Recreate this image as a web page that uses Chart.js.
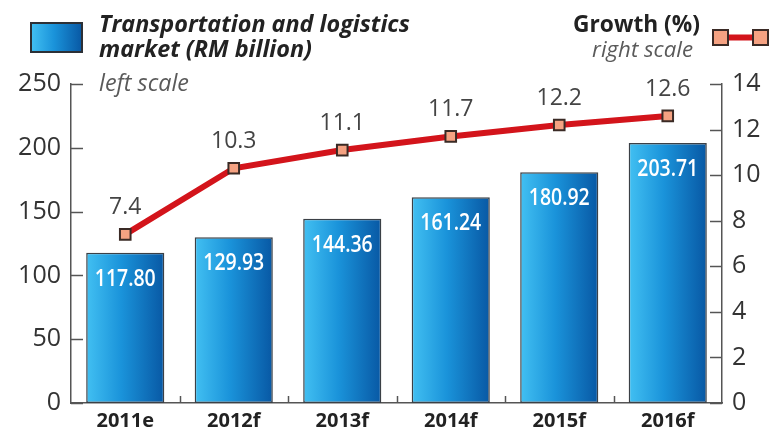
<!DOCTYPE html>
<html>
<head>
<meta charset="utf-8">
<script src="https://cdn.jsdelivr.net/npm/chart.js@4.4.0/dist/chart.umd.min.js"></script>
<style>
  html, body { margin:0; padding:0; background:#fff; }
  #wrap { position:relative; width:772px; height:433px; overflow:hidden; }
  canvas { position:absolute; left:0; top:0; }
</style>
</head>
<body>
<div id="wrap">
  <canvas id="c" width="772" height="433"></canvas>
</div>
<script>
const categories = ["2011e", "2012f", "2013f", "2014f", "2015f", "2016f"];
const marketValues = [117.80, 129.93, 144.36, 161.24, 180.92, 203.71];
const growthValues = [7.4, 10.3, 11.1, 11.7, 12.2, 12.6];
const leftTicks = [0, 50, 100, 150, 200, 250];
const rightTicks = [0, 2, 4, 6, 8, 10, 12, 14];
const barSeriesName = ["Transportation and logistics", "market (RM billion)"];
const barSeriesNote = "left scale";
const lineSeriesName = "Growth (%)";
const lineSeriesNote = "right scale";

const FONT = '"Open Sans", "Noto Sans", sans-serif';
const BAR_PCT = 0.72;

function fitFont(ctx, text, style, family, target, base) {
  ctx.font = style + ' ' + base + 'px ' + family;
  const w = ctx.measureText(text).width;
  return base * target / w;
}

function barGradient(ctx) {
  const chart = ctx.chart;
  const xs = chart.scales && chart.scales.x;
  if (!xs || !chart.chartArea) return '#1f8fd6';
  const i = ctx.dataIndex;
  const step = xs.getPixelForValue(1) - xs.getPixelForValue(0);
  const c = xs.getPixelForValue(i);
  const half = step * BAR_PCT / 2;
  const g = chart.ctx.createLinearGradient(c - half, 0, c + half, 0);
  g.addColorStop(0, '#42c0f2');
  g.addColorStop(0.45, '#1a93da');
  g.addColorStop(1, '#0858a4');
  return g;
}

const innerTicks = {
  id: 'innerTicks',
  afterDraw(chart) {
    const {ctx, scales} = chart;
    const ca = chart.chartArea;
    ctx.save();
    ctx.strokeStyle = '#555';
    ctx.lineWidth = 1.5;
    leftTicks.forEach(v => {
      const y = Math.round(scales.y.getPixelForValue(v)) + 0.5;
      ctx.beginPath(); ctx.moveTo(ca.left, y); ctx.lineTo(ca.left + 12, y); ctx.stroke();
    });
    rightTicks.forEach(v => {
      const y = Math.round(scales.y2.getPixelForValue(v)) + 0.5;
      ctx.beginPath(); ctx.moveTo(ca.right, y); ctx.lineTo(ca.right - 12, y); ctx.stroke();
    });
    for (let i = 1; i < categories.length; i++) {
      const x = Math.round((scales.x.getPixelForValue(i - 1) + scales.x.getPixelForValue(i)) / 2) + 0.5;
      ctx.beginPath(); ctx.moveTo(x, ca.bottom); ctx.lineTo(x, ca.bottom - 7); ctx.stroke();
    }
    ctx.restore();
  }
};

const legendDraw = {
  id: 'legendDraw',
  afterDraw(chart) {
    const ctx = chart.ctx;
    ctx.save();
    const g = ctx.createLinearGradient(31, 0, 82, 0);
    g.addColorStop(0, '#42c0f2'); g.addColorStop(0.45, '#1a93da'); g.addColorStop(1, '#0858a4');
    ctx.fillStyle = g;
    ctx.fillRect(31, 23, 51, 29);
    ctx.strokeStyle = '#2c3036'; ctx.lineWidth = 2;
    ctx.strokeRect(31, 23, 51, 29);

    ctx.textAlign = 'left'; ctx.textBaseline = 'alphabetic';
    const s1 = fitFont(ctx, barSeriesName[0], 'italic bold', FONT, 311, 24);
    ctx.font = 'italic bold ' + s1 + 'px ' + FONT;
    ctx.fillStyle = '#222';
    ctx.fillText(barSeriesName[0], 99, 32);
    ctx.fillText(barSeriesName[1], 99, 57);
    const s2 = fitFont(ctx, barSeriesNote, 'italic', FONT, 90, 22);
    ctx.font = 'italic ' + s2 + 'px ' + FONT;
    ctx.fillStyle = '#5a5a5a';
    ctx.fillText(barSeriesNote, 99, 91);

    ctx.textAlign = 'right';
    const s3 = fitFont(ctx, lineSeriesName, 'bold', FONT, 127, 22);
    ctx.font = 'bold ' + s3 + 'px ' + FONT;
    ctx.fillStyle = '#222';
    ctx.fillText(lineSeriesName, 700, 32);
    const s4 = fitFont(ctx, lineSeriesNote, 'italic', FONT, 101, 22);
    ctx.font = 'italic ' + s4 + 'px ' + FONT;
    ctx.fillStyle = '#5a5a5a';
    ctx.fillText(lineSeriesNote, 693, 57);

    ctx.strokeStyle = '#d3141b'; ctx.lineWidth = 6;
    ctx.beginPath(); ctx.moveTo(720, 37.5); ctx.lineTo(760, 37.5); ctx.stroke();
    ctx.fillStyle = '#f5a282'; ctx.strokeStyle = '#3a2a25'; ctx.lineWidth = 2;
    [[713, 30], [753, 30]].forEach(([x, y]) => { ctx.fillRect(x, y, 15, 15); ctx.strokeRect(x, y, 15, 15); });
    ctx.restore();
  }
};

const valueLabels = {
  id: 'valueLabels',
  afterDatasetsDraw(chart) {
    const ctx = chart.ctx;
    ctx.save();
    ctx.textAlign = 'center';
    ctx.textBaseline = 'alphabetic';
    const barMeta = chart.getDatasetMeta(0);
    const bs = fitFont(ctx, '117.80', '600', FONT, 61, 20);
    ctx.font = '600 ' + bs + 'px ' + FONT;
    ctx.fillStyle = '#ffffff';
    barMeta.data.forEach((el, i) => {
      ctx.save();
      ctx.translate(el.x, el.y + 33);
      ctx.scale(1, 1.22);
      ctx.fillText(marketValues[i].toFixed(2), 0, 0);
      ctx.restore();
    });
    const lineMeta = chart.getDatasetMeta(1);
    ctx.font = '23px ' + FONT;
    ctx.fillStyle = '#444';
    lineMeta.data.forEach((el, i) => {
      ctx.fillText(growthValues[i].toFixed(1), el.x, el.y - 20);
    });
    ctx.restore();
  }
};

new Chart(document.getElementById('c'), {
  data: {
    labels: categories,
    datasets: [
      {
        type: 'bar',
        label: barSeriesName.join(' '),
        data: marketValues,
        yAxisID: 'y',
        backgroundColor: barGradient,
        borderColor: '#3b4046',
        borderWidth: 1.5,
        borderSkipped: false,
        barPercentage: BAR_PCT,
        categoryPercentage: 1,
        order: 2
      },
      {
        type: 'line',
        label: lineSeriesName,
        data: growthValues,
        yAxisID: 'y2',
        borderColor: '#d3141b',
        borderWidth: 6,
        pointStyle: 'rect',
        pointRadius: 7.5,
        pointHoverRadius: 7.5,
        pointBackgroundColor: '#f5a282',
        pointBorderColor: '#3a2a25',
        pointBorderWidth: 2,
        tension: 0,
        order: 1
      }
    ]
  },
  options: {
    responsive: false,
    animation: false,
    events: [],
    layout: { padding: { top: 84, left: 0, right: 0, bottom: 0 } },
    plugins: { legend: { display: false }, tooltip: { enabled: false } },
    scales: {
      x: {
        offset: true,
        grid: { display: false, drawTicks: false },
        border: { display: true, color: '#555', width: 1.5 },
        ticks: { color: '#222', font: { family: FONT, size: 20, weight: 'bold' }, padding: 6, maxRotation: 0 },
        afterFit(s) { s.height = 30; }
      },
      y: {
        position: 'left',
        min: 0, max: 250,
        afterBuildTicks(s) { s.ticks = leftTicks.map(v => ({ value: v })); },
        grid: { display: false, drawTicks: false },
        border: { display: true, color: '#555', width: 1.5 },
        ticks: { color: '#333', font: { family: FONT, size: 25 }, padding: 10 },
        afterFit(s) { s.width = 71; }
      },
      y2: {
        position: 'right',
        min: 0, max: 14,
        afterBuildTicks(s) { s.ticks = rightTicks.map(v => ({ value: v })); },
        grid: { display: false, drawTicks: false },
        border: { display: true, color: '#555', width: 1.5 },
        ticks: { color: '#333', font: { family: FONT, size: 25 }, padding: 10 },
        afterFit(s) { s.width = 50; }
      }
    }
  },
  plugins: [innerTicks, valueLabels, legendDraw]
});
</script>
</body>
</html>
